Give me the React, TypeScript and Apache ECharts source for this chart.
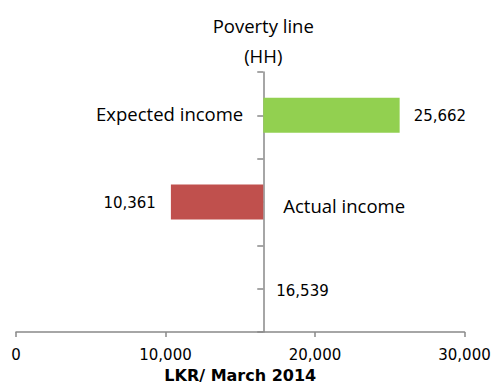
import React, { useEffect, useRef } from 'react';
import * as echarts from 'echarts';

// bottom to top
const categories = ['Poverty line (HH)', 'Actual income', 'Expected income'];
const povertyTitle = ['Poverty line', '(HH)'];
const povertyLine = 16539;
const incomes = [16539, 10361, 25662];
const barColors = ['transparent', '#C0504D', '#92D050'];
const xMin = 0;
const xMax = 30000;
const xInterval = 10000;
const xName = 'LKR/ March 2014';

const W = 499;
const H = 388;
const gridLeft = 16;
const gridRight = 34.5;
const gridTop = 72;
const gridBottom = 50;

export default function App() {
  const ref = useRef<HTMLDivElement>(null);
  useEffect(() => {
    const chart = echarts.init(ref.current!, null, { renderer: 'svg' });
    const gridWidth = W - gridLeft - gridRight;
    const axisOffset = -((povertyLine - xMin) / (xMax - xMin)) * gridWidth;
    const fmt = (v: number) => v.toLocaleString('en-US');
    const numFont = { fontFamily: 'DejaVu Sans', fontSize: 15, color: '#000' };
    const catFont = { fontFamily: 'Open Sans', fontSize: 18.5, color: '#000' };
    const axisColor = '#898989';

    const baseData = incomes.map((inc, i) => {
      const v = Math.min(inc, povertyLine);
      let label: any;
      if (inc === povertyLine) {
        label = { show: true, position: 'right', distance: 13, offset: [0, 2], formatter: fmt(inc), ...numFont };
      } else if (inc < povertyLine) {
        label = { show: true, position: 'insideRight', distance: 15, offset: [0, 1], formatter: fmt(inc), ...numFont };
      } else {
        label = { show: true, position: 'insideRight', distance: 20, offset: [0, -2], formatter: categories[i], ...catFont };
      }
      return { value: v, label };
    });

    const spanData = incomes.map((inc, i) => {
      const v = Math.abs(inc - povertyLine);
      let label: any = { show: false };
      if (inc > povertyLine) {
        label = { show: true, position: 'right', distance: 14, offset: [0, 1], formatter: fmt(inc), ...numFont };
      } else if (inc < povertyLine) {
        label = { show: true, position: 'right', distance: 20, offset: [0, 3], formatter: categories[i], ...catFont };
      }
      return { value: v, itemStyle: { color: barColors[i] }, label };
    });

    const yCommon = {
      type: 'category' as const,
      data: categories,
      position: 'left' as const,
      offset: axisOffset,
      axisLabel: { show: false },
      splitLine: { show: false },
    };

    chart.setOption({
      animation: false,
      grid: { left: gridLeft, right: gridRight, top: gridTop, bottom: gridBottom, containLabel: false },
      xAxis: {
        type: 'value',
        min: xMin,
        max: xMax,
        interval: xInterval,
        axisLine: { show: true, lineStyle: { color: axisColor, width: 1.5 } },
        axisTick: { show: true, length: 5, lineStyle: { color: axisColor, width: 1.5 } },
        axisLabel: { formatter: (v: number) => fmt(v), margin: 15, ...numFont },
        splitLine: { show: false },
        name: xName,
        nameLocation: 'middle',
        nameGap: 35,
        nameTextStyle: { fontFamily: 'DejaVu Sans', fontWeight: 'bold', fontSize: 16, color: '#000' },
      },
      yAxis: [
        {
          ...yCommon,
          axisLine: { show: true, onZero: false, lineStyle: { color: axisColor, width: 1.5 } },
          axisTick: { show: true, alignWithLabel: false, length: 6, lineStyle: { color: axisColor, width: 1.5 } },
          name: povertyTitle.join('\n'),
          nameLocation: 'end',
          nameGap: 2,
          nameTextStyle: { ...catFont, lineHeight: 30, align: 'center' },
        },
        {
          ...yCommon,
          axisLine: { show: false, onZero: false },
          axisTick: { show: true, alignWithLabel: true, length: 6, lineStyle: { color: axisColor, width: 1.5 } },
        },
      ],
      series: [
        {
          type: 'bar',
          stack: 'total',
          barWidth: 35,
          silent: true,
          itemStyle: { color: 'transparent' },
          data: baseData,
        },
        {
          type: 'bar',
          stack: 'total',
          barWidth: 35,
          silent: true,
          data: spanData,
        },
      ],
    });
    return () => chart.dispose();
  }, []);
  return <div ref={ref} style={{ position: 'absolute', left: 0, top: 0, width: W, height: H }} />;
}
